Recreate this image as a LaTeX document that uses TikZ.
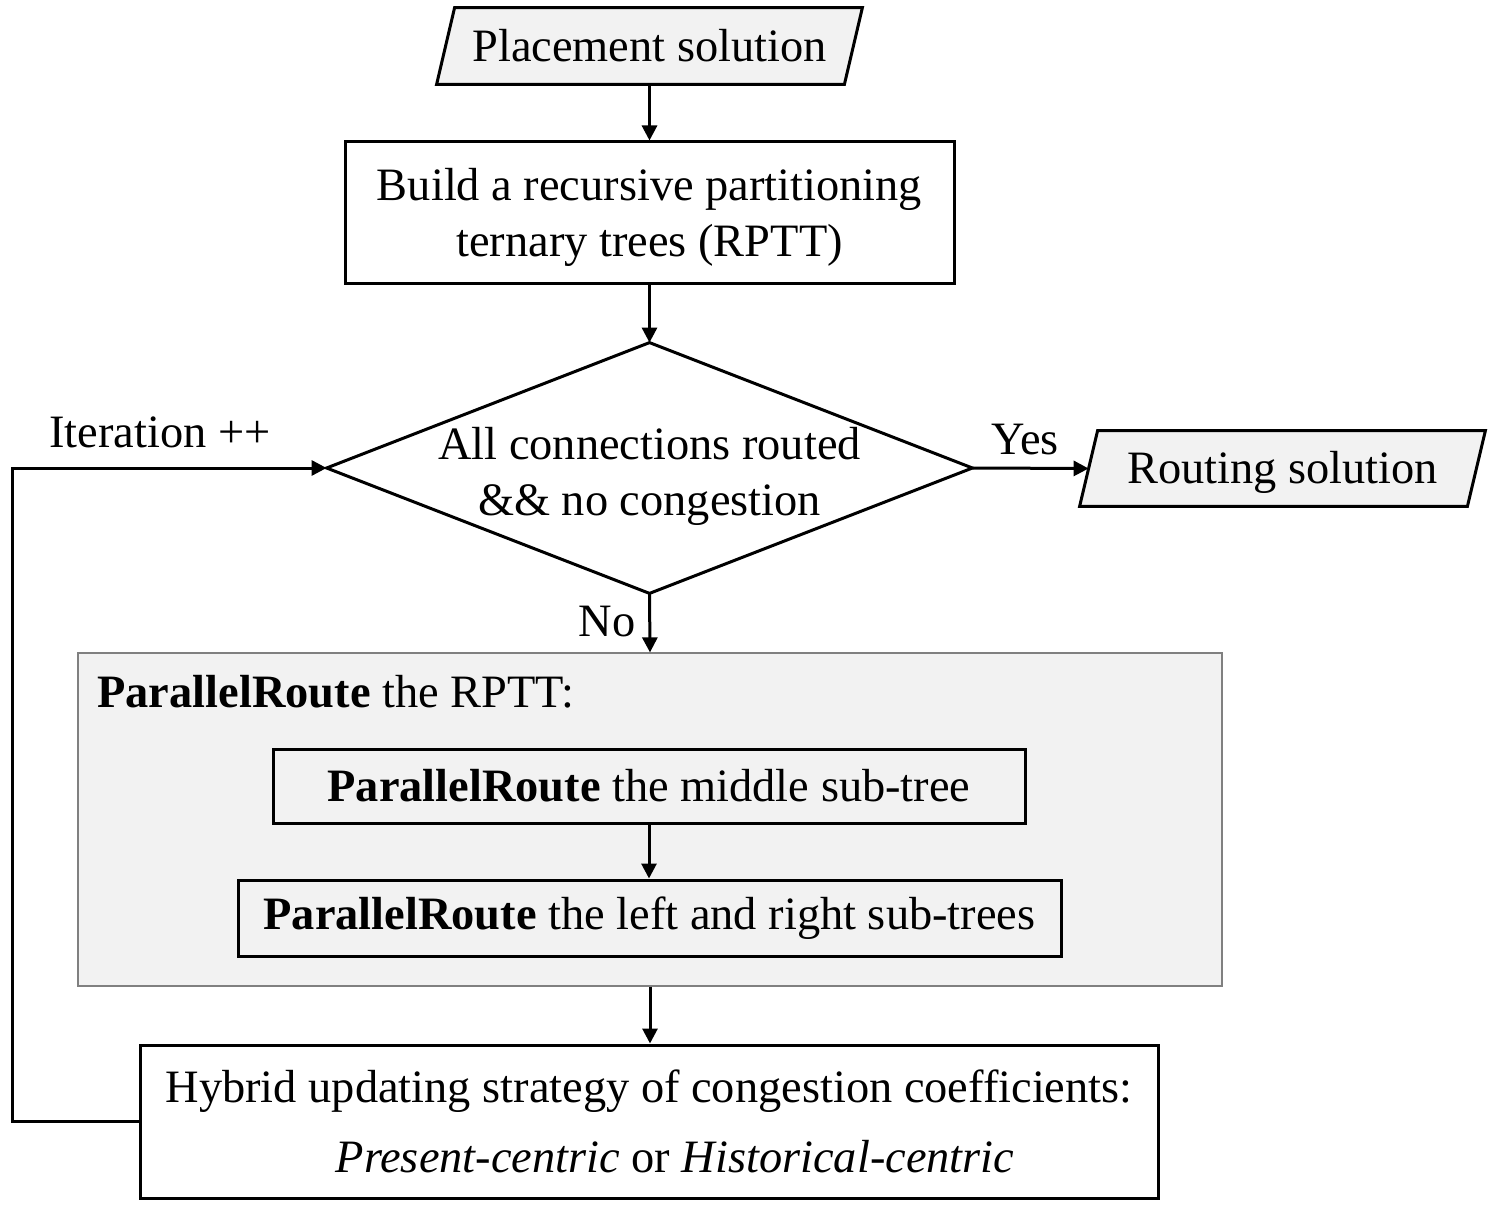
\documentclass[tikz,border=0pt]{standalone}
\usepackage{fontspec}
\setmainfont{Liberation Serif}
\usetikzlibrary{arrows.meta}
\definecolor{boxfill}{HTML}{F2F2F2}
\definecolor{boxline}{HTML}{808080}
\begin{document}
\begin{tikzpicture}[x=0.5pt,y=-0.5pt,
  every node/.style={font=\fontsize{23.2}{28}\selectfont, inner sep=0pt},
  flow/.style={line width=1.5pt, -{Triangle[length=7.5pt,width=7.5pt]}},
  procbox/.style={draw, line width=1.5pt, align=center},
  shapeline/.style={line width=1.5pt, line join=miter}
]
\useasboundingbox (0,0) rectangle (1493,1208);

% nodes
\node (place) [minimum width=212.5pt, minimum height=38pt] at (649.5,46) {};
\fill[boxfill] ([xshift=9pt]place.north west) -- (place.north east) -- ([xshift=-9pt]place.south east) -- (place.south west) -- cycle;
\draw[shapeline] ([xshift=9pt]place.north west) -- (place.north east) -- ([xshift=-9pt]place.south east) -- (place.south west) -- cycle;
\node (placetext) at (place.center) {Placement solution};

\node (build) [draw, line width=1.5pt, minimum width=304.5pt, minimum height=71pt] at (649.5,213) {};
\node (buildtext) [align=center] at ([yshift=-2pt]build.center) {Build a recursive partitioning\\ternary trees (RPTT)};

\node (dia) [minimum width=322.5pt, minimum height=125pt] at (649.5,468) {};
\draw[shapeline] (dia.north) -- (dia.east) -- (dia.south) -- (dia.west) -- cycle;
\node (diatext) [align=center] at ([yshift=-4pt]dia.center) {All connections routed\\\&\& no congestion};

\node (rout) [minimum width=202.5pt, minimum height=37.5pt] at (1282.5,468.5) {};
\fill[boxfill] ([xshift=9pt]rout.north west) -- (rout.north east) -- ([xshift=-9pt]rout.south east) -- (rout.south west) -- cycle;
\draw[shapeline] ([xshift=9pt]rout.north west) -- (rout.north east) -- ([xshift=-9pt]rout.south east) -- (rout.south west) -- cycle;
\node (routtext) at ([yshift=-2pt]rout.center) {Routing solution};

\node (grp) [draw=boxline, fill=boxfill, line width=0.6pt, minimum width=572pt, minimum height=166.5pt] at (650,819.5) {};
\node (grptitle) [anchor=west] at (97,692) {\textbf{ParallelRoute} the RPTT:};

\node (mid) [procbox, minimum width=376pt, minimum height=37pt] at (649,786) {\textbf{ParallelRoute} the middle sub-tree};
\node (lr) [procbox, minimum width=411.5pt, minimum height=38pt] at (649.5,918) {\textbf{ParallelRoute} the left and right sub-trees};

\node (hyb) [procbox, minimum width=509pt, minimum height=76.5pt] at (649,1121.5) {Hybrid updating strategy of congestion coefficients:\\[7pt]\hspace*{26pt}\textit{Present-centric} or \textit{Historical-centric}};

% labels
\node (yes) at (1025,440) {Yes};
\node (no) at (607,622) {No};
\node (iter) at (160,432) {Iteration ++};

% connectors
\coordinate (fb) at (12,1121.5);
\draw[flow] (place.south) -- (build.north);
\draw[flow] (build.south) -- (dia.north);
\draw[flow] (dia.east) -- ([xshift=4.5pt]rout.west);
\draw[flow] (dia.south) -- (grp.north);
\draw[flow] (mid.south) -- (mid.south |- lr.north);
\draw[flow] (grp.south) -- (grp.south |- hyb.north);
\draw[flow, line join=miter] (hyb.west) -- (hyb.west -| fb) |- (dia.west);
\end{tikzpicture}
\end{document}
